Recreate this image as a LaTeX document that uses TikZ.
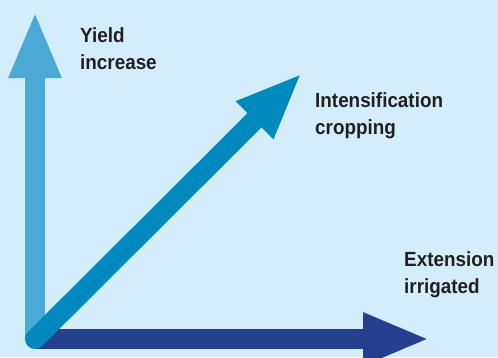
\documentclass[tikz,border=0pt]{standalone}
\usepackage{fontspec}
\setmainfont[FakeStretch=0.92]{Liberation Sans}
\usetikzlibrary{arrows.meta}
\definecolor{bgblue}{HTML}{D3EEFA}
\definecolor{yieldblue}{HTML}{4BA9D6}
\definecolor{intensblue}{HTML}{0089BC}
\definecolor{extensblue}{HTML}{25408F}
\definecolor{labelgray}{HTML}{231F20}
\begin{document}
\begin{tikzpicture}[
  x=1pt, y=-1pt,
  arrowline/.style={line width=20pt, -{Triangle[length=67pt, width=48pt]}},
  axislabel/.style={anchor=north west, inner sep=0pt, align=left, text=labelgray,
    font=\fontsize{20.5}{27}\selectfont\bfseries}
]
\clip (0,0) rectangle (498,357);
\fill[bgblue] (0,0) rectangle (498,357);

% origin and arrow tips
\coordinate (origin) at (35,339);
\coordinate (yieldtip) at (35,11);
\coordinate (extenstip) at (430,339);
\coordinate (intenstip) at (302,73);

\draw[arrowline, yieldblue] (origin) -- (yieldtip);
\draw[arrowline, extensblue] (origin) -- (extenstip);
\draw[arrowline, intensblue, line cap=round] (origin) -- (intenstip);

\node[axislabel] (yield) at (80,27) {Yield\\increase};
\node[axislabel] (intens) at (315,92) {Intensification\\cropping};
\node[axislabel] (extens) at (404,251) {Extension\\irrigated};
\end{tikzpicture}
\end{document}
